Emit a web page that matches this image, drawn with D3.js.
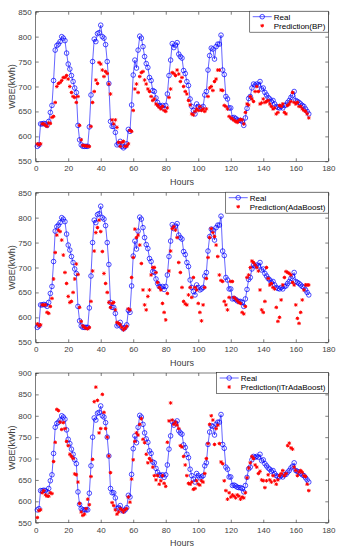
<!DOCTYPE html>
<html>
<head>
<meta charset="utf-8">
<script src="https://cdn.jsdelivr.net/npm/d3@7"></script>
<style>
  body { margin: 0; background: #fff; }
  svg { display: block; }
  text { font-family: "Liberation Sans", Arial, sans-serif; }
</style>
</head>
<body>
<div id="chart"></div>
<script>
///////////// data /////////////////

// hour index of each sample
const hours = d3.range(1, 169);

// measured WBE (kWh), one value per hour
const realWBE = [
  580, 583, 625, 625, 626, 625, 622, 630, 648, 662, 712, 773, 782, 785, 790, 800, 797, 792, 767, 745, 735, 722, 710, 697,
  688, 622, 593, 583, 580, 580, 580, 580, 619, 683, 750, 795, 790, 806, 808, 823, 800, 797, 784, 750, 706, 630, 620, 620,
  608, 583, 585, 590, 580, 577, 580, 585, 614, 610, 663, 723, 753, 737, 773, 801, 797, 780, 760, 746, 738, 718, 712, 692,
  690, 677, 668, 662, 660, 662, 656, 662, 685, 722, 753, 786, 778, 783, 788, 765, 760, 757, 732, 726, 710, 702, 675, 660,
  652, 645, 665, 660, 655, 657, 660, 683, 690, 733, 762, 777, 775, 755, 780, 785, 785, 803, 733, 724, 680, 675, 657, 657,
  637, 638, 636, 633, 632, 632, 630, 622, 637, 656, 676, 680, 697, 705, 703, 705, 703, 710, 695, 697, 688, 683, 678, 675,
  670, 672, 665, 660, 658, 657, 660, 657, 662, 663, 668, 672, 678, 682, 690, 672, 670, 668, 665, 662, 660, 655, 650, 645
];

const predBP = [
  585, 583, 585, 625, 625, 622, 620, 627, 626, 638, 640, 668, 700, 706, 708, 712, 718, 718, 722, 715, 700, 688, 680, 678,
  668, 680, 622, 593, 582, 581, 581, 580, 580, 620, 668, 690, 713, 706, 748, 745, 733, 720, 730, 726, 705, 685, 633, 625,
  633, 618, 588, 580, 588, 590, 580, 580, 585, 612, 610, 652, 695, 705, 688, 720, 728, 730, 713, 705, 695, 690, 680, 672,
  675, 665, 662, 658, 655, 660, 652, 650, 657, 678, 695, 728, 726, 722, 733, 725, 710, 718, 700, 690, 685, 672, 663, 645,
  643, 650, 655, 652, 660, 652, 655, 650, 655, 680, 697, 700, 692, 710, 715, 733, 733, 693, 692, 662, 660, 655, 640, 637,
  635, 632, 630, 628, 632, 634, 633, 625, 648, 665, 663, 680, 675, 670, 690, 700, 690, 665, 667, 675, 668, 670, 672, 665,
  660, 655, 657, 645, 648, 662, 660, 665, 648, 645, 662, 665, 670, 688, 668, 665, 668, 660, 660, 655, 652, 650, 645, 637
];

const predAdaBoost = [
  587, 583, 585, 625, 625, 625, 610, 608, 622, 638, 677, 730, 765, 775, 772, 755, 725, 690, 668, 642, 630, 632, 650, 677,
  707, 686, 620, 592, 583, 580, 578, 577, 580, 632, 693, 733, 770, 780, 795, 772, 732, 688, 668, 650, 630, 620, 628, 630,
  615, 590, 588, 585, 580, 575, 578, 582, 617, 615, 680, 720, 777, 760, 765, 745, 708, 655, 625, 615, 642, 655, 685, 700,
  700, 690, 670, 660, 655, 628, 610, 595, 648, 693, 733, 778, 782, 775, 760, 710, 690, 660, 632, 627, 625, 645, 660, 640,
  680, 660, 655, 628, 610, 593, 625, 660, 678, 720, 760, 778, 770, 762, 745, 722, 685, 674, 672, 632, 625, 615, 640, 672,
  672, 640, 637, 633, 630, 628, 610, 607, 622, 680, 685, 700, 713, 710, 705, 700, 693, 655, 615, 610, 632, 700, 678, 665,
  668, 660, 657, 620, 592, 600, 635, 665, 680, 692, 690, 688, 685, 670, 665, 625, 598, 588, 610, 635, 655, 665, 665, 665
];

const predITrAdaBoost = [
  562, 578, 580, 620, 625, 615, 612, 612, 620, 618, 693, 738, 815, 812, 785, 768, 784, 770, 740, 730, 710, 705, 700, 664,
  662, 645, 595, 575, 567, 570, 583, 605, 592, 658, 698, 833, 867, 836, 760, 770, 850, 808, 770, 750, 706, 667, 597, 590,
  580, 570, 575, 583, 580, 575, 580, 583, 610, 598, 652, 697, 740, 760, 755, 780, 793, 745, 737, 710, 690, 700, 695, 680,
  660, 650, 660, 640, 648, 660, 642, 635, 738, 788, 830, 790, 780, 785, 778, 770, 730, 727, 705, 685, 660, 642, 640, 645,
  628, 630, 648, 640, 638, 648, 645, 665, 700, 735, 780, 800, 790, 733, 770, 778, 735, 692, 688, 648, 625, 605, 620, 610,
  615, 612, 608, 615, 612, 605, 610, 608, 620, 655, 678, 690, 705, 700, 685, 680, 665, 670, 650, 648, 632, 648, 662, 650,
  645, 660, 648, 640, 650, 660, 665, 672, 660, 665, 730, 736, 725, 722, 680, 672, 660, 668, 672, 668, 660, 658, 640, 625
];

const xTicks = [0, 20, 40, 60, 80, 100, 120, 140, 160, 180];
const yTicks850 = [550, 600, 650, 700, 750, 800, 850];
const yTicks900 = [550, 600, 650, 700, 750, 800, 850, 900];

const predNames = ["Prediction(BP)", "Prediction(AdaBoost)", "Prediction(iTrAdaBoost)"];
const predSeries = [predBP, predAdaBoost, predITrAdaBoost];

///////////// layout /////////////////

const width = 341, height = 550;
const left = 35.7, right = 328.3;
const boxes = [
  { top: 11.7, bottom: 161.3, ticks: yTicks850 },
  { top: 192.7, bottom: 342.3, ticks: yTicks850 },
  { top: 373, bottom: 522.7, ticks: yTicks900 }
];
const axisColor = "#262626";
const textColor = "#404040";
const blue = "#0000ff";
const red = "#ff0000";

const svg = d3.select("#chart")
  .append("svg")
  .attr("width", width)
  .attr("height", height);

//asterisk marker: plus and cross together
function asterisk(cx, cy, r) {
  const d = r * 0.72;
  return `M${cx - r},${cy}H${cx + r}M${cx},${cy - r}V${cy + r}` +
    `M${cx - d},${cy - d}L${cx + d},${cy + d}M${cx - d},${cy + d}L${cx + d},${cy - d}`;
}

const x = d3.scaleLinear().domain([0, 180]).range([left, right]);

boxes.forEach((b, p) => {
  const ticks = b.ticks;
  const y = d3.scaleLinear()
    .domain([ticks[0], ticks[ticks.length - 1]])
    .range([b.bottom, b.top]);

  const g = svg.append("g");

  // axes (ticks point inward, mirrored on top / right)
  const bottomAxis = g.append("g")
    .attr("transform", `translate(0,${b.bottom})`)
    .call(d3.axisBottom(x).tickValues(xTicks).tickSizeInner(-3).tickSizeOuter(0).tickPadding(4.5));
  const topAxis = g.append("g")
    .attr("transform", `translate(0,${b.top})`)
    .call(d3.axisTop(x).tickValues(xTicks).tickSizeInner(-3).tickSizeOuter(0).tickFormat(""));
  const leftAxis = g.append("g")
    .attr("transform", `translate(${left},0)`)
    .call(d3.axisLeft(y).tickValues(ticks).tickSizeInner(-3).tickSizeOuter(0).tickPadding(4));
  const rightAxis = g.append("g")
    .attr("transform", `translate(${right},0)`)
    .call(d3.axisRight(y).tickValues(ticks).tickSizeInner(-3).tickSizeOuter(0).tickFormat(""));

  [bottomAxis, topAxis, leftAxis, rightAxis].forEach(a => {
    a.select(".domain").remove();
    a.selectAll("line").attr("stroke", axisColor).attr("stroke-width", 0.6);
    a.selectAll("text")
      .attr("fill", textColor)
      .style("font-size", "8px")
      .style("font-family", '"Liberation Sans", Arial, sans-serif');
  });

  // plot box
  g.append("rect")
    .attr("x", left)
    .attr("y", b.top)
    .attr("width", right - left)
    .attr("height", b.bottom - b.top)
    .attr("fill", "none")
    .attr("stroke", axisColor)
    .attr("stroke-width", 0.6);

  // axis labels
  g.append("text")
    .attr("x", (left + right) / 2)
    .attr("y", b.bottom + 23.7)
    .attr("text-anchor", "middle")
    .attr("fill", textColor)
    .style("font-size", "9px")
    .text("Hours");
  g.append("text")
    .attr("transform", `translate(15,${(b.top + b.bottom) / 2}) rotate(-90)`)
    .attr("text-anchor", "middle")
    .attr("fill", textColor)
    .style("font-size", "9px")
    .text("WBE(kWh)");

  // real series: line + open circles
  const line = d3.line()
    .x((d, i) => x(hours[i]))
    .y(d => y(d));
  g.append("path")
    .datum(realWBE)
    .attr("d", line)
    .attr("fill", "none")
    .attr("stroke", blue)
    .attr("stroke-width", 0.6);
  g.selectAll(".real")
    .data(realWBE)
    .enter()
    .append("circle")
    .attr("class", "real")
    .attr("cx", (d, i) => x(hours[i]))
    .attr("cy", d => y(d))
    .attr("r", 2.3)
    .attr("fill", "none")
    .attr("stroke", blue)
    .attr("stroke-width", 0.7);

  // prediction series: red asterisks
  g.selectAll(".pred")
    .data(predSeries[p])
    .enter()
    .append("path")
    .attr("class", "pred")
    .attr("d", (d, i) => asterisk(x(hours[i]), y(d), 1.8))
    .attr("fill", "none")
    .attr("stroke", red)
    .attr("stroke-width", 1);

  // legend, top right corner
  const legend = g.append("g");
  const legendBox = legend.append("rect")
    .attr("fill", "#fff")
    .attr("stroke", axisColor)
    .attr("stroke-width", 0.6);
  const t1 = legend.append("text")
    .attr("x", 0).attr("y", 0)
    .attr("fill", "#000")
    .style("font-size", "8px")
    .text("Real");
  const t2 = legend.append("text")
    .attr("x", 0).attr("y", 0)
    .attr("fill", "#000")
    .style("font-size", "8px")
    .text(predNames[p]);
  const tw = Math.max(t1.node().getComputedTextLength(), t2.node().getComputedTextLength());
  const lw = tw + 27, lh = 21;
  const lx = right - lw, ly = b.top - 0.5;
  legendBox.attr("x", lx).attr("y", ly).attr("width", lw).attr("height", lh);
  const row1 = ly + 5.5, row2 = ly + 14.5;
  t1.attr("x", lx + 24).attr("y", row1 + 3);
  t2.attr("x", lx + 24).attr("y", row2 + 3);
  legend.append("line")
    .attr("x1", lx + 3).attr("x2", lx + 22)
    .attr("y1", row1).attr("y2", row1)
    .attr("stroke", blue).attr("stroke-width", 0.6);
  legend.append("circle")
    .attr("cx", lx + 12.5).attr("cy", row1).attr("r", 2.3)
    .attr("fill", "none").attr("stroke", blue).attr("stroke-width", 0.7);
  legend.append("path")
    .attr("d", asterisk(lx + 12.5, row2, 1.8))
    .attr("fill", "none").attr("stroke", red).attr("stroke-width", 1);
});
</script>
</body>
</html>
